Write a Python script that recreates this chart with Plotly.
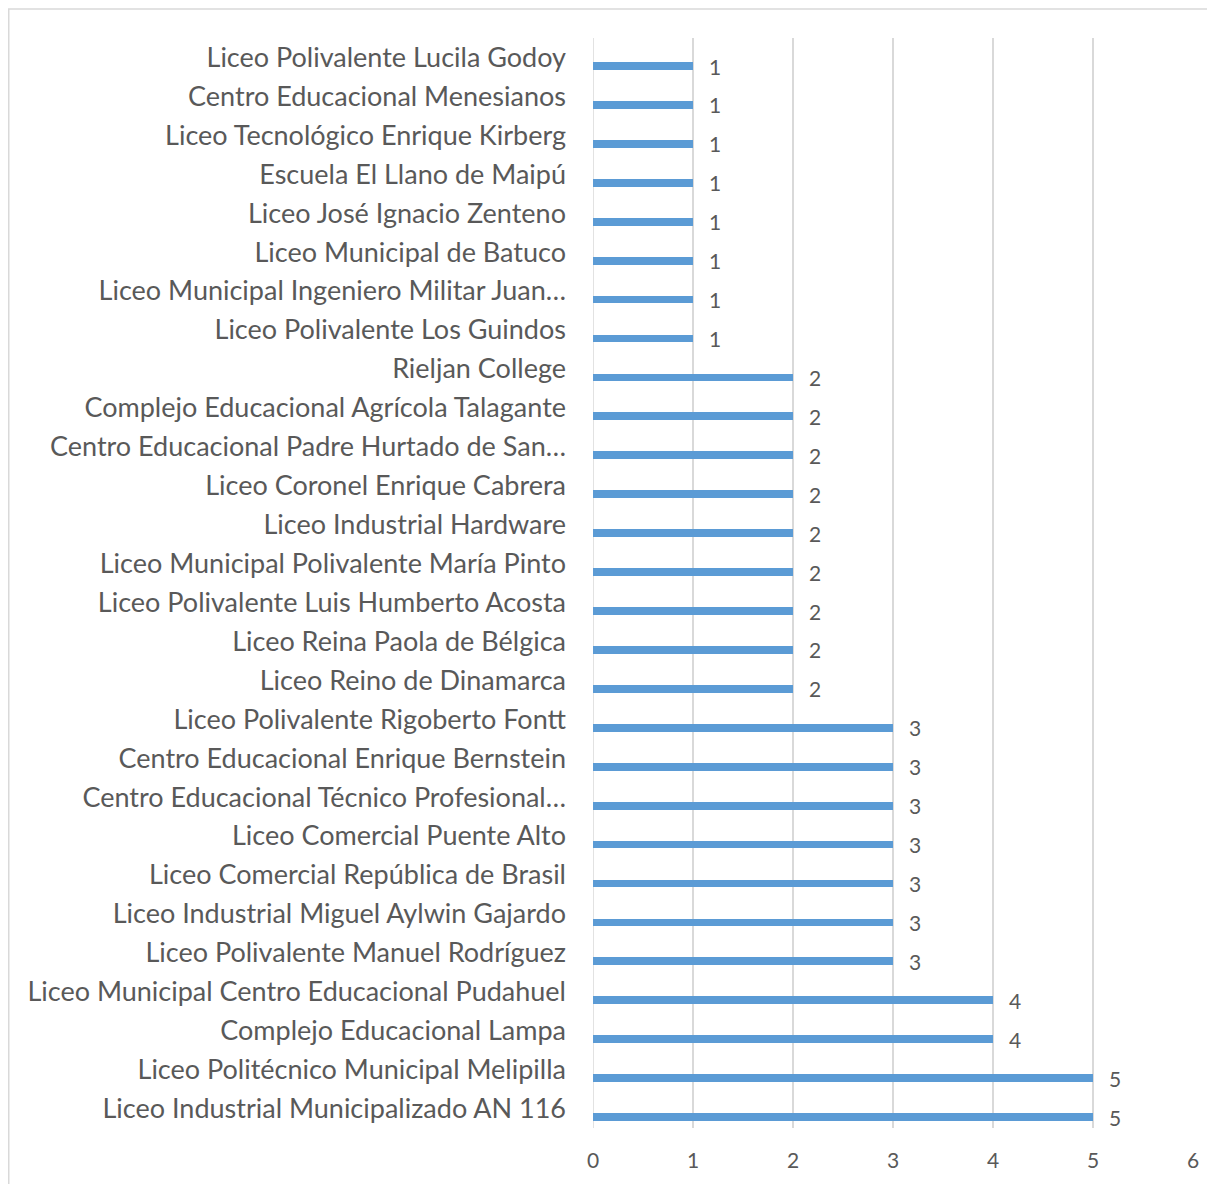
import plotly.graph_objects as go

categories = [
    "Liceo Polivalente Lucila Godoy",
    "Centro Educacional Menesianos",
    "Liceo Tecnológico Enrique Kirberg",
    "Escuela El Llano de Maipú",
    "Liceo José Ignacio Zenteno",
    "Liceo Municipal de Batuco",
    "Liceo Municipal Ingeniero Militar Juan…",
    "Liceo Polivalente Los Guindos",
    "Rieljan College",
    "Complejo Educacional Agrícola Talagante",
    "Centro Educacional Padre Hurtado de San…",
    "Liceo Coronel Enrique Cabrera",
    "Liceo Industrial Hardware",
    "Liceo Municipal Polivalente María Pinto",
    "Liceo Polivalente Luis Humberto Acosta",
    "Liceo Reina Paola de Bélgica",
    "Liceo Reino de Dinamarca",
    "Liceo Polivalente Rigoberto Fontt",
    "Centro Educacional Enrique Bernstein",
    "Centro Educacional Técnico Profesional…",
    "Liceo Comercial Puente Alto",
    "Liceo Comercial República de Brasil",
    "Liceo Industrial Miguel Aylwin Gajardo",
    "Liceo Polivalente Manuel Rodríguez",
    "Liceo Municipal Centro Educacional Pudahuel",
    "Complejo Educacional Lampa",
    "Liceo Politécnico Municipal Melipilla",
    "Liceo Industrial Municipalizado AN 116",
]
values = [1, 1, 1, 1, 1, 1, 1, 1,
          2, 2, 2, 2, 2, 2, 2, 2, 2,
          3, 3, 3, 3, 3, 3, 3,
          4, 4, 5, 5]
x_ticks = [0, 1, 2, 3, 4, 5, 6]

BAR = "#5b9bd5"
TXT = "#595959"
GRID = "#d9d9d9"
FONT = "Lato"

# page body has an 8px margin; figure occupies (8..1215, 8..1184)
W, H = 1207, 1176
L, R, T, B = 585, 22, 30, 56
pw, ph = W - L - R, H - T - B

OFF = 0.22
ypos = [i + OFF for i in range(len(categories))]

fig = go.Figure()
fig.add_trace(go.Bar(
    x=values, y=ypos, orientation="h", width=0.2,
    marker=dict(color=BAR, line=dict(width=0)),
    hoverinfo="skip",
))

annotations = []
for v, y in zip(values, ypos):
    annotations.append(dict(
        x=v, y=y, xref="x", yref="y", text=str(v), showarrow=False,
        xanchor="left", yanchor="middle", xshift=14, yshift=0,
        font=dict(family=FONT, size=21, color=TXT),
    ))

fig.update_layout(
    width=W, height=H,
    margin=dict(l=L, r=R, t=T, b=B),
    paper_bgcolor="white", plot_bgcolor="white",
    showlegend=False,
    annotations=annotations,
    bargap=0,
    xaxis=dict(
        range=[0, 6], tickvals=x_ticks, ticktext=[str(t) for t in x_ticks],
        showgrid=True, gridcolor=GRID, gridwidth=1.5,
        zeroline=False, showline=False, ticks="",
        tickfont=dict(family=FONT, size=21, color=TXT),
        ticklabelstandoff=18, fixedrange=True,
    ),
    yaxis=dict(
        range=[len(categories) - 0.5, -0.5],
        tickvals=list(range(len(categories))), ticktext=categories,
        showgrid=False, zeroline=False, showline=False, ticks="",
        tickfont=dict(family=FONT, size=27, color=TXT),
        ticklabelstandoff=26, fixedrange=True,
    ),
    shapes=[dict(
        type="rect", xref="paper", yref="paper",
        x0=(0.75 - L) / pw, x1=(W + 20 - L) / pw,
        y0=-(B + 20) / ph, y1=1 + (T - 1) / ph,
        line=dict(color=GRID, width=1.5), fillcolor="rgba(0,0,0,0)", layer="below",
    ), dict(
        type="line", xref="x", yref="paper", x0=0, x1=0, y0=0, y1=1,
        line=dict(color=GRID, width=1.5), layer="below",
    )],
)

fig.write_html("out.html")
